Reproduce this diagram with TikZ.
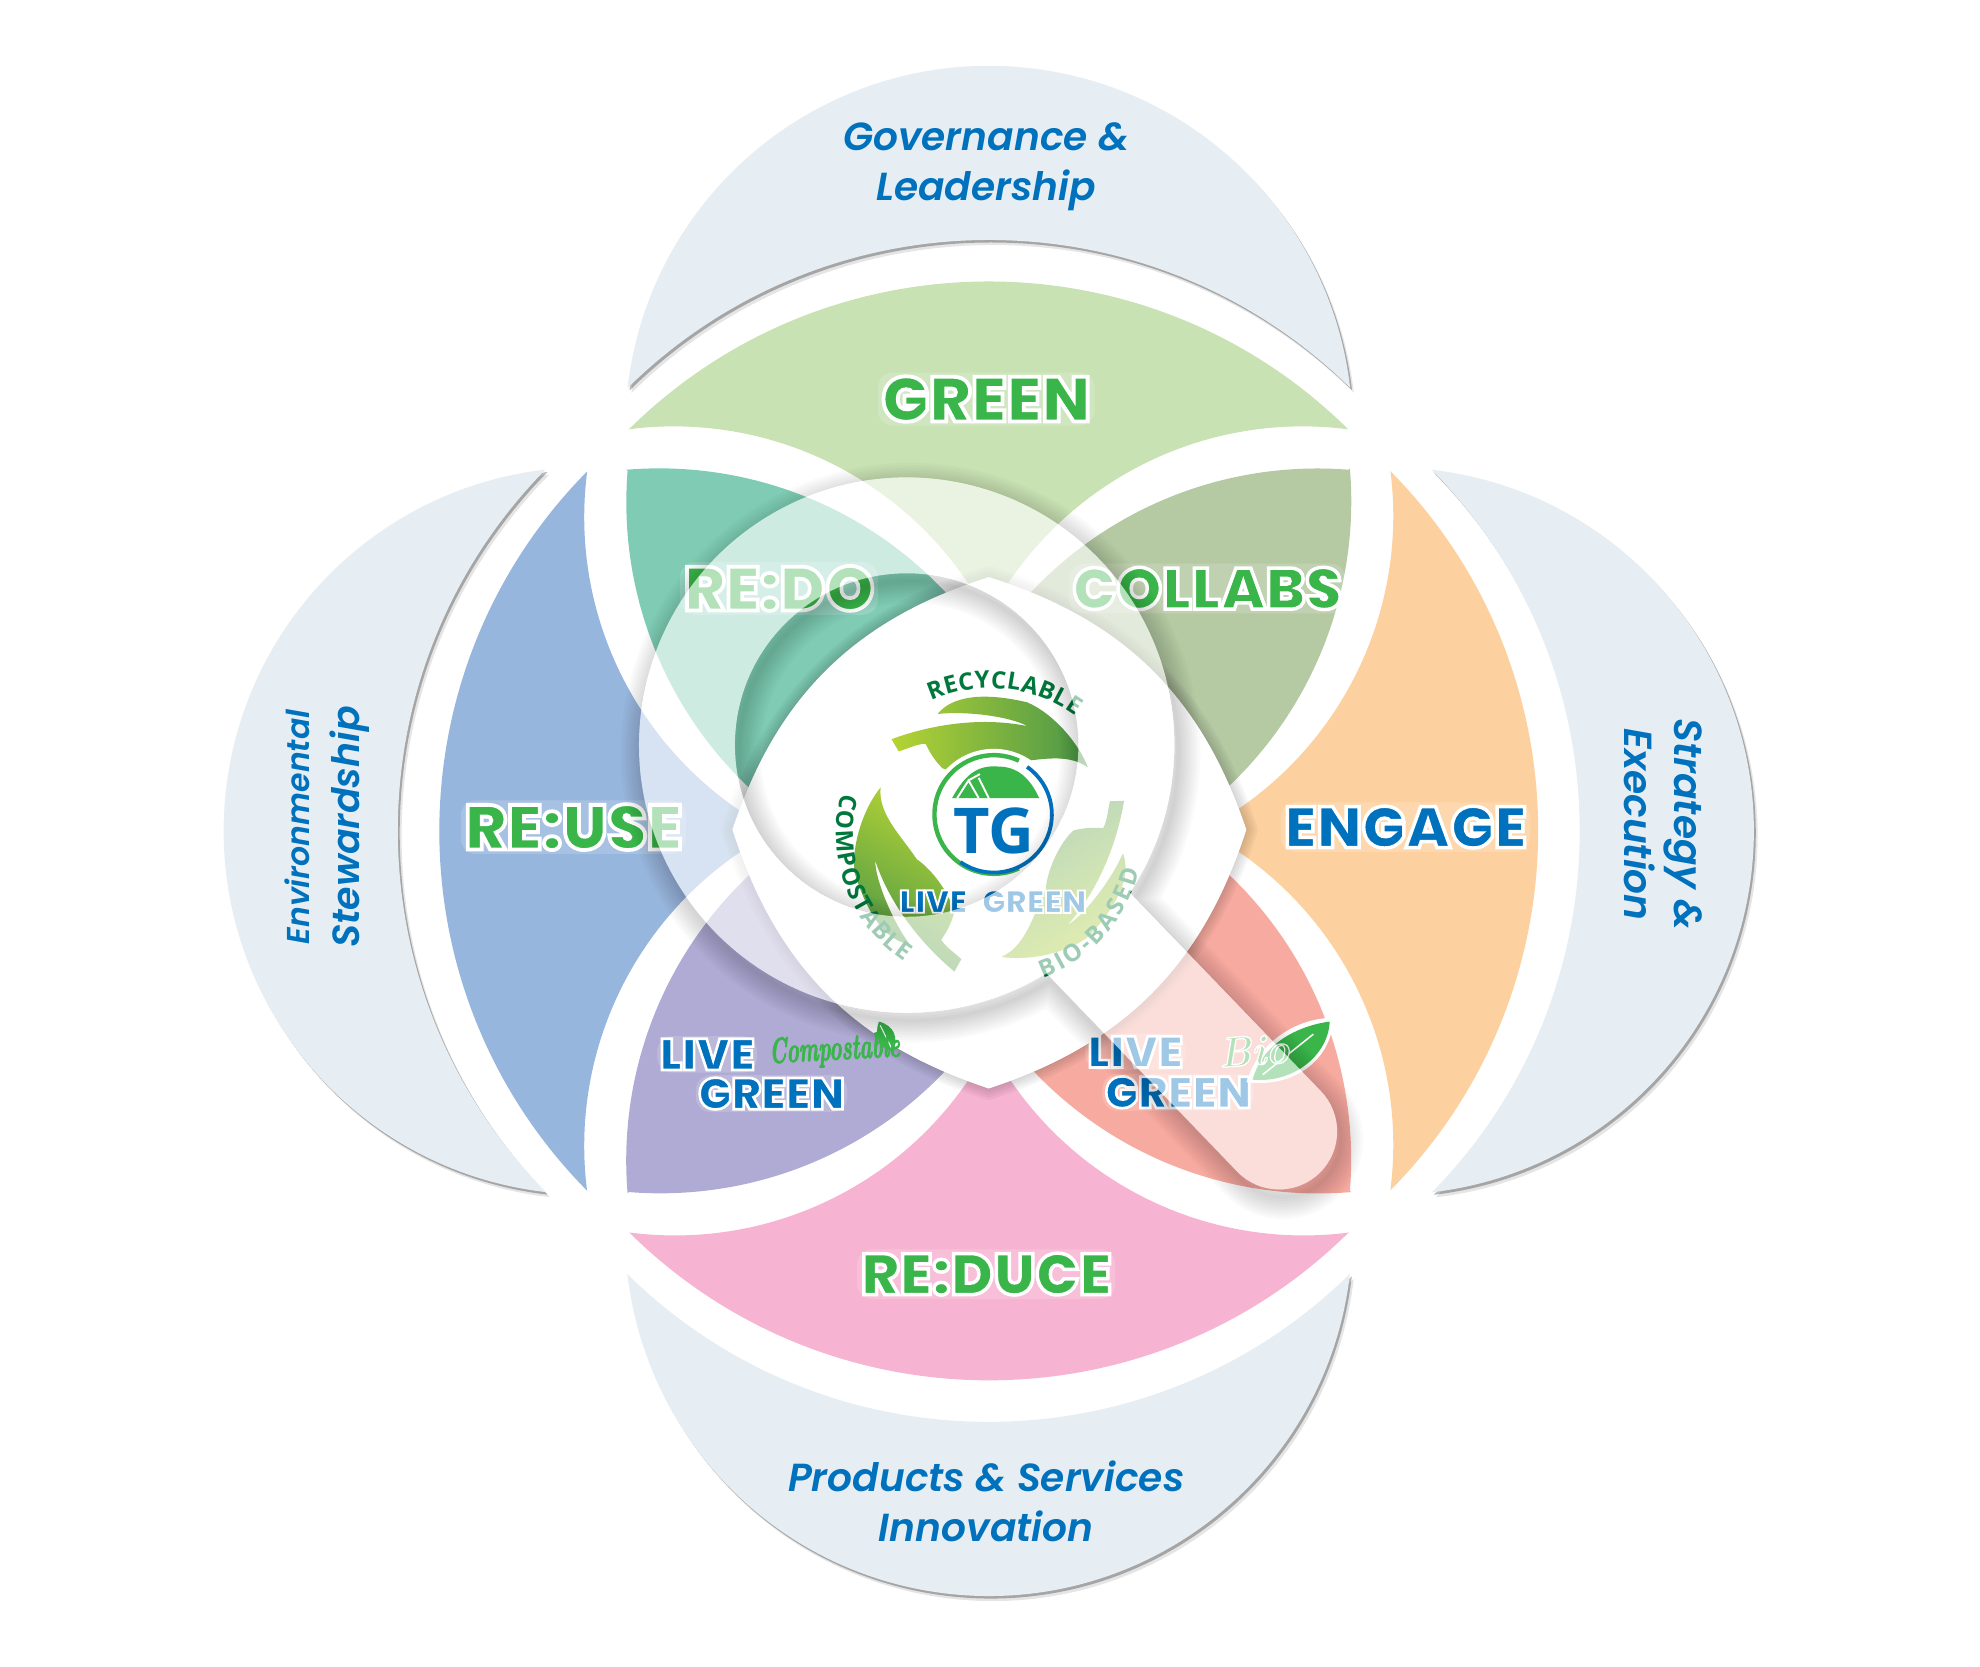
\documentclass[tikz,border=0pt]{standalone}
\usepackage{fontspec}
\usetikzlibrary{decorations.text}
\setmainfont{Latin Modern Roman}
\newfontfamily\labelfont{Poppins SemiBold}[ItalicFont={Poppins SemiBold Italic}]
\newfontfamily\neonfont{Poppins Black}[FakeBold=6]
\newfontfamily\tgfont{Open Sans}
\newfontfamily\handfont{Latin Modern Roman}[BoldItalicFeatures={FakeBold=3}]
\definecolor{crescentc}{HTML}{E6EEF3}
\definecolor{petalgreen}{HTML}{C8E2B4}
\definecolor{petalblue}{HTML}{97B6DD}
\definecolor{petalpink}{HTML}{F7B3D2}
\definecolor{petalorange}{HTML}{FDD19F}
\definecolor{lensteal}{HTML}{7FCBB4}
\definecolor{lenspurple}{HTML}{B0ABD4}
\definecolor{lenssalmon}{HTML}{F7AAA0}
\definecolor{lensolive}{HTML}{B5C9A3}
\definecolor{tgblue}{HTML}{0071BC}
\definecolor{tggreen}{HTML}{39B54A}
\definecolor{tgdark}{HTML}{00783C}
\definecolor{leafa}{HTML}{B5D334}
\definecolor{leafb}{HTML}{4A9649}
\newcommand{\neongreen}[1]{\special{pdf:bcolor [0.224 0.71 0.29] [1 1 1]}#1\special{pdf:ecolor}}
\newcommand{\neonblue}[1]{\special{pdf:bcolor [0 0.443 0.737] [1 1 1]}#1\special{pdf:ecolor}}
\newcommand{\crescentpath}{(-286,-351) arc[start angle=186.6,end angle=353.4,radius=288] arc[start angle=314.5,end angle=225.5,radius=408] -- cycle}
\newcommand{\glasspath}{(828.8,770.8) arc[start angle=58.5,end angle=393.5,radius=212] -- (1046,864) arc[start angle=316,end angle=496,radius=46] -- cycle (854,590) arc[start angle=0,end angle=360,radius=136]}
\newcommand{\curvefont}{\tgfont\bfseries\fontsize{19}{19}\selectfont\color{tgdark}}
\tikzset{
  labeltext/.style={text=tgblue,align=center,font=\labelfont\itshape\fontsize{31}{40}\selectfont},
  neon/.style={fill=white,fill opacity=.16,text opacity=1,rounded corners=12pt,inner sep=3pt,font=\neonfont\fontsize{#1}{#1}\selectfont},
  neon/.default=47,
  neonsmall/.style={neon=35,inner sep=2pt},
  scripttext/.style={text=tggreen,font=\handfont\itshape\bfseries\fontsize{21}{21}\selectfont},
  curvetext/.style={decorate,decoration={text along path,text align=fit to path,text={#1}}},
  leafpath/.style={insert path={(-78,-77.6) .. controls (-50,-88) and (-10,-96) .. (29.5,-88) .. controls (15,-96) and (-20,-100) .. (-41.5,-97.6) .. controls (-30,-112) and (-5,-115) .. (29.5,-106.8) .. controls (50,-98) and (70,-75) .. (77.5,-55.3) .. controls (60,-68) and (35,-60) .. (14,-59) .. controls (0,-52) and (-25,-50) .. (-37.7,-54.6) .. controls (-45,-62) and (-48,-68) .. (-51,-74) .. controls (-58,-74) and (-65,-70) .. (-72.3,-68) -- cycle}}
}
\begin{document}
\begin{tikzpicture}[x=1pt,y=-1pt]
\useasboundingbox (0,0) rectangle (1568,1320);
% outer crescents
\foreach \ang in {0,90,180,270} {
  \begin{scope}[shift={(786,662)},rotate=\ang]
    \fill[black,opacity=.1] \crescentpath;
  \end{scope}
  \begin{scope}[shift={(784.5,660)},rotate=\ang]
    \fill[black,opacity=.28] \crescentpath;
  \end{scope}
  \begin{scope}[shift={(783,658)},rotate=\ang]
    \fill[crescentc] \crescentpath;
  \end{scope}
}
% petals
\foreach \ang/\col in {0/petalgreen,90/petalblue,180/petalpink,270/petalorange} {
  \begin{scope}[shift={(783,658)},rotate=\ang]
    \fill[\col] (-285,-318) arc[start angle=225.3,end angle=314.7,radius=405]
      arc[start angle=277.4,end angle=207.6,radius=281]
      arc[start angle=332.4,end angle=262.6,radius=281] -- cycle;
  \end{scope}
}
% lenses
\foreach \ang/\col in {0/lensteal,90/lenspurple,180/lenssalmon,270/lensolive} {
  \begin{scope}[shift={(783,658)},rotate=\ang]
    \fill[\col] (-287,-286) arc[start angle=265.2,end angle=364.8,radius=311]
      arc[start angle=85.4,end angle=184.6,radius=311] -- cycle;
  \end{scope}
}
% leaf in the middle
\coordinate (tiptop) at (783,457);
\coordinate (tipright) at (987,657);
\coordinate (tipbottom) at (783,862);
\coordinate (tipleft) at (580,657);
\foreach \w in {2,6,10,14,18} {
  \draw[black,opacity=.035,line width=\w,line join=round,shift={(2,5)}] (tiptop) to[bend left=27] (tipright) to[bend left=27] (tipbottom) to[bend left=27] (tipleft) to[bend left=27] (tiptop) -- cycle;
}
\fill[white] (tiptop) to[bend left=27] (tipright) to[bend left=27] (tipbottom) to[bend left=27] (tipleft) to[bend left=27] (tiptop) -- cycle;
% texts on the petals
\node[neon=50] (green) at (781,316) {\neongreen{GREEN}};
\node[neon=49] (redo) at (617,466) {\neongreen{RE:DO}};
\node[neon=46] (collabs) at (956,466) {\neongreen{COLLABS}};
\node[neon=50] (reuse) at (454,655) {\neongreen{RE:USE}};
\node[neon=46] (engage) at (1113,655) {\neonblue{ENGAGE}};
\node[neon=46] (reduce) at (781,1009) {\neongreen{RE:DUCE}};
\node[neonsmall] (livea) at (560,835) {\neonblue{LIVE}};
\node[neonsmall] (greena) at (611,866) {\neonblue{GREEN}};
\node[neonsmall] (liveb) at (899,833) {\neonblue{LIVE}};
\node[neonsmall] (greenb) at (933,865) {\neonblue{GREEN}};
\fill[tggreen] (696,809) .. controls (708,812) and (712,822) .. (707,833) .. controls (696,830) and (692,820) .. (696,809) -- cycle;
\draw[white,line width=.8] (697,812) -- (706,830);
\fill[white] (987,857) .. controls (998,822) and (1030,806) .. (1056,806) .. controls (1055,838) and (1026,862) .. (987,857) -- cycle;
\fill[tggreen] (992,855) .. controls (1000,825) and (1030,812) .. (1053,809) .. controls (1052,835) and (1025,858) .. (992,855) -- cycle;
\draw[white,line width=1.2] (1000,851) -- (1040,819);
\node[scripttext,rotate=3] (compost) at (661,832) {\scalebox{.78}[1.35]{Compostable}};
\node[scripttext,rotate=4] (bio) at (993,832) {\scalebox{1.5}[1.6]{\neongreen{Bio}}};
% logo
\foreach \a in {0,120,240} {
  \begin{scope}[shift={(784,663)},rotate=-\a]
    \shade[left color=leafa,right color=leafb,shading angle=90+\a,leafpath];
  \end{scope}
}
\path[curvetext={|\curvefont|RECYCLABLE}] (784,660) ++(246:115) arc[start angle=246,end angle=306,radius=115];
\path[curvetext={|\curvefont|COMPOSTABLE}] (784,660) ++(195:122) arc[start angle=195,end angle=124,radius=122];
\path[curvetext={|\curvefont|BIO-BASED}] (784,660) ++(70:122) arc[start angle=70,end angle=14,radius=122];
\node[circle,fill=white,inner sep=0pt,minimum size=104pt] (logo) at (787,645) {};
\draw[tggreen,line width=3.5] (787,645) ++(295:47) arc[start angle=295,end angle=65,radius=47];
\draw[tgblue,line width=3] (787,645) ++(-55:46) arc[start angle=-55,end angle=125,radius=46];
\fill[tggreen] (754,632) .. controls (765,612) and (775,606) .. (790,607) .. controls (805,607) and (815,615) .. (823,632) -- cycle;
\draw[white,line width=1.5] (758,632) -- (767,618) -- (775,632) (775,616) -- (783,632) (767,618) -- (776,613);
\node[text=tgblue,font=\tgfont\bfseries\fontsize{50}{50}\selectfont] (tg) at (787,658) {TG};
\node[font=\neonfont\fontsize{25}{25}\selectfont,inner sep=0pt] (logolive) at (739,714) {\neonblue{LIVE}};
\node[font=\neonfont\fontsize{25}{25}\selectfont,inner sep=0pt] (logogreen) at (819,714) {\neonblue{GREEN}};
% shadow of the glass
\begin{scope}[even odd rule]
  \clip (0,0) rectangle (1568,1320) \glasspath;
  \foreach \w in {3,7,11,15,19,23,27,31,35} {
    \begin{scope}[shift={(3,6)}]
      \draw[black,opacity=.02,line width=\w] \glasspath;
    \end{scope}
  }
\end{scope}
% glass
\fill[white,opacity=.62,even odd rule] \glasspath;
% labels
\node[labeltext] (govern) at (781,132) {Governance \&\\Leadership};
\node[labeltext] (products) at (781,1189) {Products \& Services\\Innovation};
\node[labeltext,rotate=90] (environ) at (259,655) {\fontsize{25}{40}\selectfont Environmental\\\fontsize{30}{40}\selectfont Stewardship};
\node[labeltext,rotate=-90] (strategy) at (1317,653) {Strategy \&\\Execution};
\end{tikzpicture}
\end{document}
